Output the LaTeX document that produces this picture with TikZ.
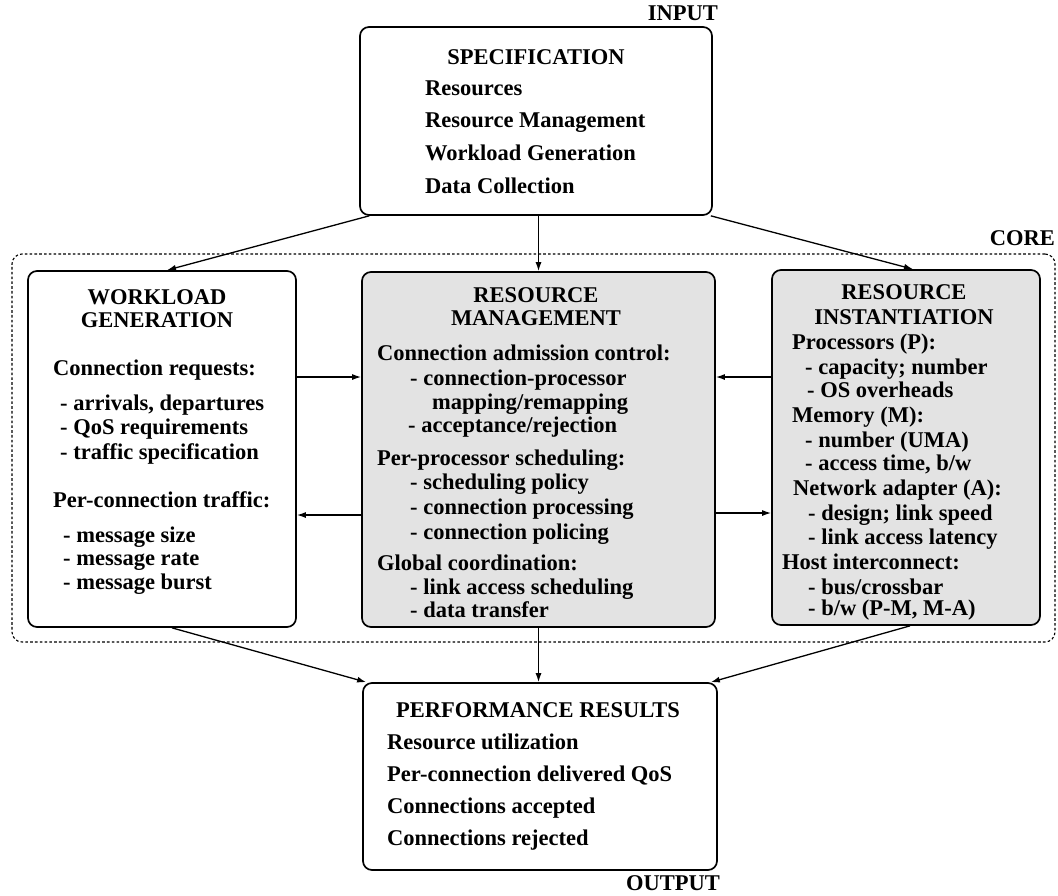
\documentclass[tikz,border=0pt]{standalone}
\usepackage{fontspec}
\setmainfont{Liberation Serif}
\usetikzlibrary{arrows.meta}
\newcommand\tl[4]{\node[txt] (#1) at (#2,#3) {#4};}
\newcommand\tc[4]{\node[ctxt] (#1) at (#2,#3) {#4};}
\begin{document}
\begin{tikzpicture}[x=1pt,y=-1pt,
  box/.style={draw, line width=1.7pt, rounded corners=9pt, inner sep=0pt, fill=white},
  shaded/.style={box, fill=black!11},
  coreframe/.style={draw, line width=1.1pt, dash pattern=on 2.6pt off 2.2pt, rounded corners=10pt, inner sep=0pt},
  txt/.style={anchor=base west, inner sep=0pt, font=\bfseries\fontsize{22.5}{24}\selectfont},
  ctxt/.style={txt, anchor=base},
  rtxt/.style={txt, anchor=base east},
  arr/.style={line width=1.3pt, -{Latex[length=9pt,width=6pt]}}]
\useasboundingbox (0,0) rectangle (1058,895);
\fill[white] (0,0) rectangle (1058,895);

% frames
\node[coreframe, minimum width=1043pt, minimum height=388pt] (core) at (533.5,448) {};
\node[box, minimum width=352pt, minimum height=188pt] (spec) at (536,121) {};
\node[box, minimum width=268pt, minimum height=356pt] (wg) at (162,449) {};
\node[shaded, minimum width=353pt, minimum height=355pt] (rm) at (538.5,449.5) {};
\node[shaded, minimum width=268pt, minimum height=355pt] (ri) at (906,447.5) {};
\node[box, minimum width=354pt, minimum height=187pt] (perf) at (540,776.5) {};

% outside labels
\node[rtxt] (inlab) at (718,20) {INPUT};
\node[rtxt] (corelab) at (1055,245) {CORE};
\node[rtxt] (outlab) at (720,890) {OUTPUT};

% specification
\tc{s0}{536}{64}{SPECIFICATION}
\tl{s1}{425}{95}{Resources}
\tl{s2}{425}{127}{Resource Management}
\tl{s3}{425}{160}{Workload Generation}
\tl{s4}{425}{193}{Data Collection}

% workload generation
\tc{w0}{157}{304}{WORKLOAD}
\tc{w1}{157}{327}{GENERATION}
\tl{w2}{53}{375}{Connection requests:}
\tl{w3}{60}{410}{- arrivals, departures}
\tl{w4}{60}{434}{- QoS requirements}
\tl{w5}{60}{459}{- traffic specification}
\tl{w6}{53}{507}{Per-connection traffic:}
\tl{w7}{63}{542}{- message size}
\tl{w8}{63}{565}{- message rate}
\tl{w9}{63}{589}{- message burst}

% resource management
\tc{r0}{536}{302}{RESOURCE}
\tc{r1}{536}{325}{MANAGEMENT}
\tl{r2}{377}{360}{Connection admission control:}
\tl{r3}{410}{385}{- connection-processor}
\tl{r4}{432}{409}{mapping/remapping}
\tl{r5}{408}{432}{- acceptance/rejection}
\tl{r6}{377}{465}{Per-processor scheduling:}
\tl{r7}{410}{489}{- scheduling policy}
\tl{r8}{410}{514}{- connection processing}
\tl{r9}{410}{539}{- connection policing}
\tl{r10}{377}{570}{Global coordination:}
\tl{r11}{410}{594}{- link access scheduling}
\tl{r12}{410}{617}{- data transfer}

% resource instantiation
\tc{i0}{904}{299}{RESOURCE}
\tc{i1}{904}{324}{INSTANTIATION}
\tl{i2}{792}{349}{Processors (P):}
\tl{i3}{805}{374}{- capacity; number}
\tl{i4}{807}{397}{- OS overheads}
\tl{i5}{792}{422}{Memory (M):}
\tl{i6}{805}{447}{- number (UMA)}
\tl{i7}{805}{470}{- access time, b/w}
\tl{i8}{793}{495}{Network adapter (A):}
\tl{i9}{808}{520}{- design; link speed}
\tl{i10}{808}{544}{- link access latency}
\tl{i11}{782}{569}{Host interconnect:}
\tl{i12}{808}{594}{- bus/crossbar}
\tl{i13}{808}{615}{- b/w (P-M, M-A)}

% performance results
\tc{p0}{538}{717}{PERFORMANCE RESULTS}
\tl{p1}{387}{749}{Resource utilization}
\tl{p2}{387}{781}{Per-connection delivered QoS}
\tl{p3}{387}{813}{Connections accepted}
\tl{p4}{387}{845}{Connections rejected}

% connectors
\coordinate (h1) at (0,377);
\coordinate (h2) at (0,515);
\coordinate (h3) at (0,513);
\draw[arr] ([xshift=10pt]spec.south west) -- ([xshift=5pt]wg.north);
\draw[arr] (rm.north |- spec.south) -- (rm.north);
\draw[arr] ([xshift=-2pt]spec.south east) -- ([xshift=7pt]ri.north);
\draw[arr] (wg.east |- h1) -- (rm.west |- h1);
\draw[arr] (rm.west |- h2) -- (wg.east |- h2);
\draw[arr] (ri.west |- h1) -- (rm.east |- h1);
\draw[arr] (rm.east |- h3) -- (ri.west |- h3);
\draw[arr] ([xshift=10pt]wg.south) -- ([xshift=4pt]perf.north west);
\draw[arr] (rm.south) -- (rm.south |- perf.north);
\draw[arr] ([xshift=4pt]ri.south) -- ([xshift=-7pt]perf.north east);
\end{tikzpicture}
\end{document}
